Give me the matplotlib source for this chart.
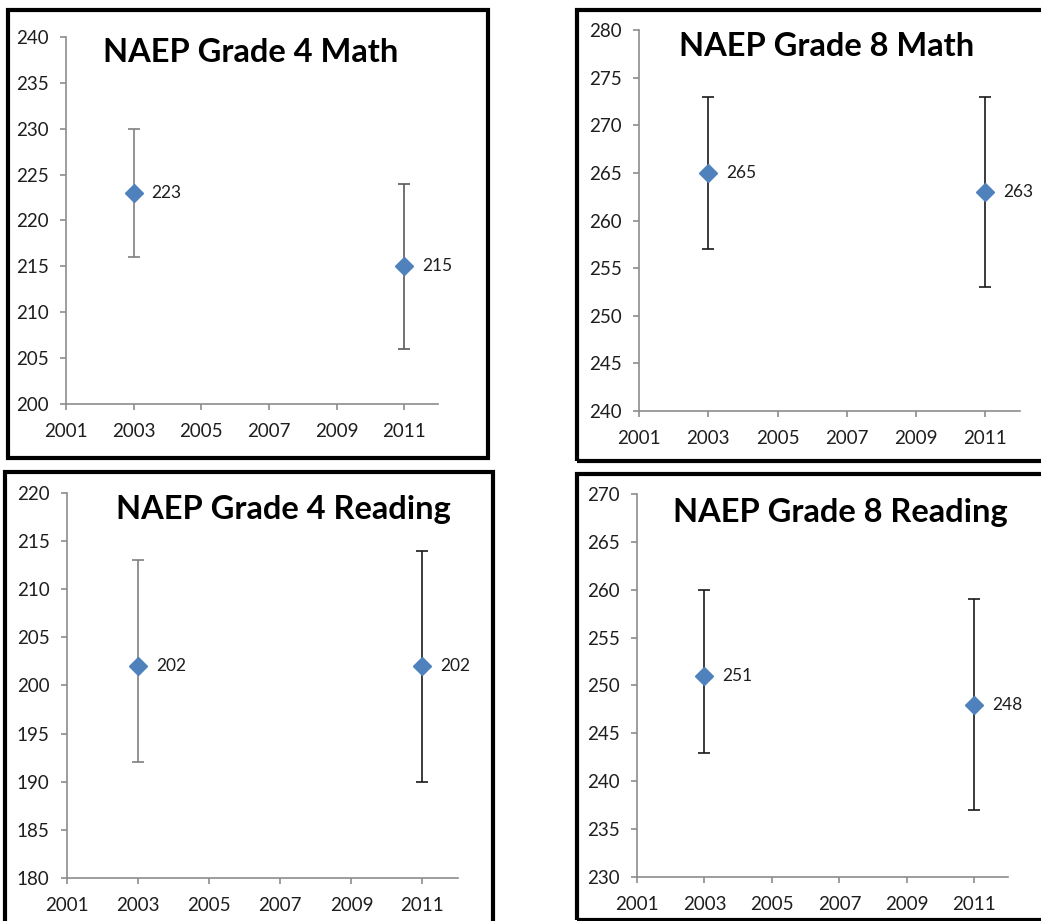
"""
NAEP scores 2003 vs 2011 with error bars, four panels in the Excel look.
"""

import matplotlib
matplotlib.use("Agg")
import matplotlib.pyplot as plt
from matplotlib.patches import Rectangle

# Data
years = [2003, 2011]

g4_math = [223, 215]
g4_math_lo = [7, 9]
g4_math_hi = [7, 9]

g8_math = [265, 263]
g8_math_lo = [8, 10]
g8_math_hi = [8, 10]

g4_read = [202, 202]
g4_read_lo = [10, 12]
g4_read_hi = [11, 12]

g8_read = [251, 248]
g8_read_lo = [8, 11]
g8_read_hi = [9, 11]

x_ticks = [2001, 2003, 2005, 2007, 2009, 2011]

W, H = 1041, 921
BLUE = "#4F81BD"
AXIS = "#8c8c8c"
TXT = "#1e1e1e"

plt.rcParams["font.family"] = ["Lato", "DejaVu Sans"]

fig = plt.figure(figsize=(W / 100, H / 100), dpi=100)
fig.patch.set_facecolor("white")


def px_axes(left, top, right, bottom):
    return fig.add_axes([left / W, 1 - bottom / H, (right - left) / W, (bottom - top) / H])


def box(x0, y0, x1, y1):
    fig.patches.append(
        Rectangle((x0 / W, 1 - y1 / H), (x1 - x0) / W, (y1 - y0) / H,
                  transform=fig.transFigure, fill=False, ec="black", lw=3)
    )


def panel(ax, title, title_xy, vals, lo, hi, ylim, bar_colors):
    for x, v, l, h, c in zip(years, vals, lo, hi, bar_colors):
        ax.errorbar([x], [v], yerr=[[l], [h]], fmt="none", ecolor=c,
                    elinewidth=1.2, capsize=4, capthick=1.2, zorder=2)
        ax.plot([x], [v], marker="D", ms=9, color=BLUE, ls="none", zorder=3)
        ax.annotate(f"{v:.0f}", (x, v), xytext=(13, 0), textcoords="offset points",
                    va="center", ha="left", fontsize=12.5, color=TXT)

    ax.set_xlim(2001, 2012)
    ax.set_ylim(*ylim)
    ax.set_xticks(x_ticks)
    ax.set_yticks(range(ylim[0], ylim[1] + 1, 5))
    for s in ["top", "right"]:
        ax.spines[s].set_visible(False)
    for s in ["left", "bottom"]:
        ax.spines[s].set_color(AXIS)
        ax.spines[s].set_linewidth(1.2)
    ax.tick_params(axis="both", colors=AXIS, labelcolor=TXT, labelsize=13.5,
                   length=4.5, width=1.2, direction="out")
    ax.tick_params(axis="y", pad=8)
    ax.tick_params(axis="x", pad=9)

    fig.text(title_xy[0] / W, 1 - title_xy[1] / H, title, ha="center", va="center",
             fontsize=23.5, fontweight="bold", color="black")


# panel borders
box(8, 10, 488, 458)
box(577, 10, 1050, 461)
box(5, 472, 493, 930)
box(577, 474, 1050, 920)

ax1 = px_axes(66, 37, 438, 404)
panel(ax1, "NAEP Grade 4 Math", (251, 53), g4_math, g4_math_lo, g4_math_hi,
      (200, 240), ["#808080", "#5a5a5a"])

ax2 = px_axes(639, 30, 1020, 411)
panel(ax2, "NAEP Grade 8 Math", (827, 47), g8_math, g8_math_lo, g8_math_hi,
      (240, 280), ["#1a1a1a", "#1a1a1a"])

ax3 = px_axes(67, 493, 458, 878)
panel(ax3, "NAEP Grade 4 Reading", (283, 510), g4_read, g4_read_lo, g4_read_hi,
      (180, 220), ["#7f7f7f", "#1a1a1a"])

ax4 = px_axes(637, 494, 1008, 877)
panel(ax4, "NAEP Grade 8 Reading", (840, 512), g8_read, g8_read_lo, g8_read_hi,
      (230, 270), ["#1a1a1a", "#1a1a1a"])

fig.savefig("out.png", dpi=100)
